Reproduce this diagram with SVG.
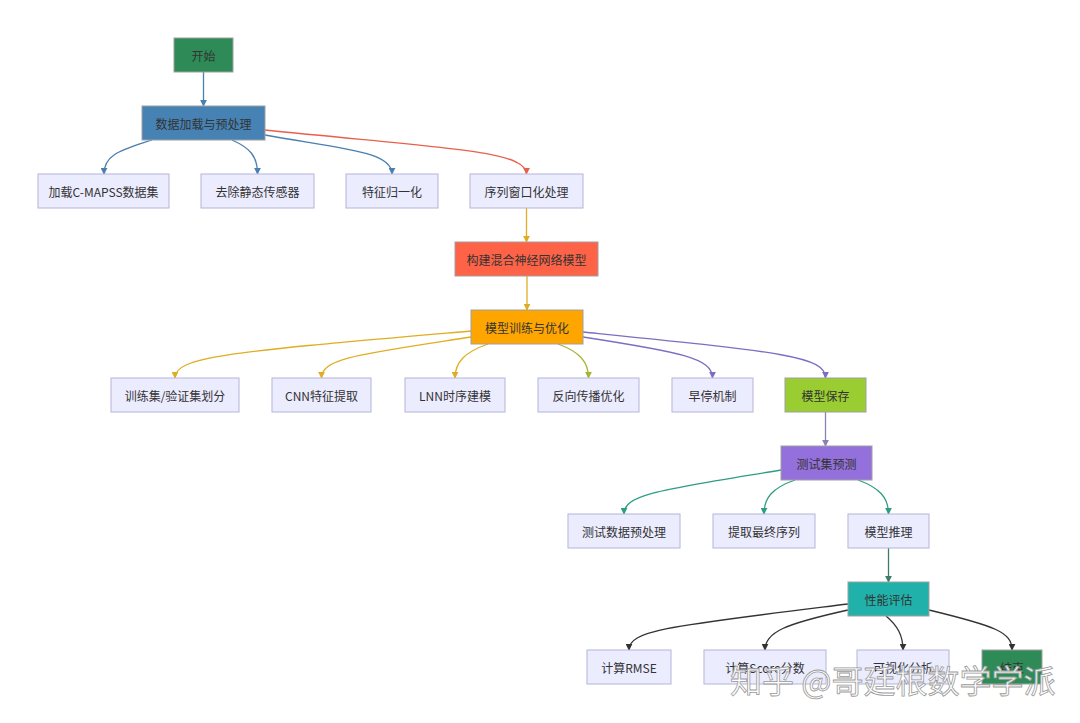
<svg xmlns="http://www.w3.org/2000/svg" width="1080" height="723" viewBox="0 0 1080 723">
<style>
.n rect{fill:#ECECFF;stroke:#B4B4DA;stroke-width:1}
.n text{font-family:"Noto Sans CJK SC","Noto Sans",sans-serif;font-size:12px;fill:#333;text-anchor:middle;dominant-baseline:central}
.n.c rect{stroke:#A0A0A0;stroke-width:1}
.n rect.fgreen{fill:#2E8B57}.n rect.fblue{fill:#4682B4}.n rect.fred{fill:#FF6347}.n rect.forange{fill:#FFA500}
.n rect.flime{fill:#9ACD32}.n rect.fpurple{fill:#9370DB}.n rect.fteal{fill:#20B2AA}
.e path{fill:none;stroke-width:1.3}
.b{stroke:#4A7FAF}.r{stroke:#E8604C}.g{stroke:#E0AD22}.o{stroke:#A8B436}.p{stroke:#7E6EC2}.pg{stroke:#8A80B4}.t{stroke:#2E9E82}.td{stroke:#3C7C6A}.k{stroke:#333}
.wm{font-family:"Noto Sans CJK SC",sans-serif;font-size:32px;fill:#fff;fill-opacity:0.9;stroke:#9a9a9a;stroke-width:0.8}
</style>
<defs>
<marker id="mb" viewBox="0 0 10 10" refX="9" refY="5" markerWidth="7" markerHeight="7" markerUnits="userSpaceOnUse" orient="auto"><path d="M0,0L10,5L0,10z" fill="#4A7FAF"/></marker>
<marker id="mr" viewBox="0 0 10 10" refX="9" refY="5" markerWidth="7" markerHeight="7" markerUnits="userSpaceOnUse" orient="auto"><path d="M0,0L10,5L0,10z" fill="#E8604C"/></marker>
<marker id="mg" viewBox="0 0 10 10" refX="9" refY="5" markerWidth="7" markerHeight="7" markerUnits="userSpaceOnUse" orient="auto"><path d="M0,0L10,5L0,10z" fill="#E0AD22"/></marker>
<marker id="mo" viewBox="0 0 10 10" refX="9" refY="5" markerWidth="7" markerHeight="7" markerUnits="userSpaceOnUse" orient="auto"><path d="M0,0L10,5L0,10z" fill="#A8B436"/></marker>
<marker id="mp" viewBox="0 0 10 10" refX="9" refY="5" markerWidth="7" markerHeight="7" markerUnits="userSpaceOnUse" orient="auto"><path d="M0,0L10,5L0,10z" fill="#7E6EC2"/></marker>
<marker id="mpg" viewBox="0 0 10 10" refX="9" refY="5" markerWidth="7" markerHeight="7" markerUnits="userSpaceOnUse" orient="auto"><path d="M0,0L10,5L0,10z" fill="#8A80B4"/></marker>
<marker id="mt" viewBox="0 0 10 10" refX="9" refY="5" markerWidth="7" markerHeight="7" markerUnits="userSpaceOnUse" orient="auto"><path d="M0,0L10,5L0,10z" fill="#2E9E82"/></marker>
<marker id="mtd" viewBox="0 0 10 10" refX="9" refY="5" markerWidth="7" markerHeight="7" markerUnits="userSpaceOnUse" orient="auto"><path d="M0,0L10,5L0,10z" fill="#3C7C6A"/></marker>
<marker id="mk" viewBox="0 0 10 10" refX="9" refY="5" markerWidth="7" markerHeight="7" markerUnits="userSpaceOnUse" orient="auto"><path d="M0,0L10,5L0,10z" fill="#333"/></marker>
</defs>
<rect width="1080" height="723" fill="#fff"/>
<g id="connectors" class="e">
<path class="b" marker-end="url(#mb)" d="M203.5,72 L203.5,106"/>
<path class="b" marker-end="url(#mb)" d="M152,140 C122,150 104,154 104,174"/>
<path class="b" marker-end="url(#mb)" d="M232,140 C250,148 257.5,156 257.5,174"/>
<path class="b" marker-end="url(#mb)" d="M265,135 C350,150 392,152 392,174"/>
<path class="r" marker-end="url(#mr)" d="M265,130 C440,148 526.5,150 526.5,174"/>
<path class="g" marker-end="url(#mg)" d="M526.5,208 L526.5,242"/>
<path class="g" marker-end="url(#mg)" d="M527,276 L527,310"/>
<path class="g" marker-end="url(#mg)" d="M471,331 C230,352 175,356 175,378"/>
<path class="g" marker-end="url(#mg)" d="M471,337 C360,354 321.5,358 321.5,378"/>
<path class="g" marker-end="url(#mg)" d="M488,344 C465,352 455,362 455,378"/>
<path class="o" marker-end="url(#mo)" d="M558,344 C580,352 588.5,362 588.5,378"/>
<path class="p" marker-end="url(#mp)" d="M583,337 C680,352 712.5,358 712.5,378"/>
<path class="p" marker-end="url(#mp)" d="M583,332 C780,352 825.5,356 825.5,378"/>
<path class="pg" marker-end="url(#mpg)" d="M825.5,412 L825.5,446"/>
<path class="t" marker-end="url(#mt)" d="M781,470 C660,490 624,494 624,514"/>
<path class="t" marker-end="url(#mt)" d="M795,480 C772,488 764,498 764,514"/>
<path class="t" marker-end="url(#mt)" d="M858,480 C880,488 888.5,498 888.5,514"/>
<path class="td" marker-end="url(#mtd)" d="M888.5,548 L888.5,582"/>
<path class="k" marker-end="url(#mk)" d="M848,604 C670,626 629,630 629,650"/>
<path class="k" marker-end="url(#mk)" d="M848,610 C785,624 765,632 765,650"/>
<path class="k" marker-end="url(#mk)" d="M886,616 C898,626 903,636 903,650"/>
<path class="k" marker-end="url(#mk)" d="M929,610 C995,626 1012,632 1012,650"/>
</g>
<g id="start" class="n c"><rect class="fgreen" x="174" y="38" width="59" height="34"/><text x="203.5" y="55">开始</text></g>
<g id="load" class="n c"><rect class="fblue" x="142" y="106" width="123" height="34"/><text x="203.5" y="123">数据加载与预处理</text></g>
<g id="cmapss" class="n"><rect x="38" y="174" width="131" height="34"/><text x="103.5" y="191">加载C-MAPSS数据集</text></g>
<g id="static" class="n"><rect x="201" y="174" width="113" height="34"/><text x="257.5" y="191">去除静态传感器</text></g>
<g id="norm" class="n"><rect x="346" y="174" width="92" height="34"/><text x="392" y="191">特征归一化</text></g>
<g id="window" class="n"><rect x="470" y="174" width="113" height="34"/><text x="526.5" y="191">序列窗口化处理</text></g>
<g id="build" class="n c"><rect class="fred" x="455" y="242" width="143" height="34"/><text x="526.5" y="259">构建混合神经网络模型</text></g>
<g id="train" class="n c"><rect class="forange" x="471" y="310" width="112" height="34"/><text x="527" y="327">模型训练与优化</text></g>
<g id="split" class="n"><rect x="111" y="378" width="128" height="34"/><text x="175" y="395">训练集/验证集划分</text></g>
<g id="cnn" class="n"><rect x="272" y="378" width="99" height="34"/><text x="321.5" y="395">CNN特征提取</text></g>
<g id="lnn" class="n"><rect x="405" y="378" width="100" height="34"/><text x="455" y="395">LNN时序建模</text></g>
<g id="bp" class="n"><rect x="538" y="378" width="101" height="34"/><text x="588.5" y="395">反向传播优化</text></g>
<g id="early" class="n"><rect x="672" y="378" width="81" height="34"/><text x="712.5" y="395">早停机制</text></g>
<g id="save" class="n c"><rect class="flime" x="785" y="378" width="81" height="34"/><text x="825.5" y="395">模型保存</text></g>
<g id="test" class="n c"><rect class="fpurple" x="781" y="446" width="91" height="34"/><text x="826.5" y="463">测试集预测</text></g>
<g id="testpre" class="n"><rect x="568" y="514" width="112" height="34"/><text x="624" y="531">测试数据预处理</text></g>
<g id="lastseq" class="n"><rect x="713" y="514" width="102" height="34"/><text x="764" y="531">提取最终序列</text></g>
<g id="infer" class="n"><rect x="848" y="514" width="81" height="34"/><text x="888.5" y="531">模型推理</text></g>
<g id="eval" class="n c"><rect class="fteal" x="848" y="582" width="81" height="34"/><text x="888.5" y="599">性能评估</text></g>
<g id="rmse" class="n"><rect x="587" y="650" width="84" height="34"/><text x="629" y="667">计算RMSE</text></g>
<g id="score" class="n"><rect x="704" y="650" width="122" height="34"/><text x="765" y="667">计算Score分数</text></g>
<g id="vis" class="n"><rect x="857" y="650" width="92" height="34"/><text x="903" y="667">可视化分析</text></g>
<g id="end" class="n c"><rect class="fgreen" x="982" y="650" width="60" height="34"/><text x="1012" y="667">结束</text></g>
<text class="wm" x="730" y="693">知乎 @哥廷根数学学派</text>
</svg>
